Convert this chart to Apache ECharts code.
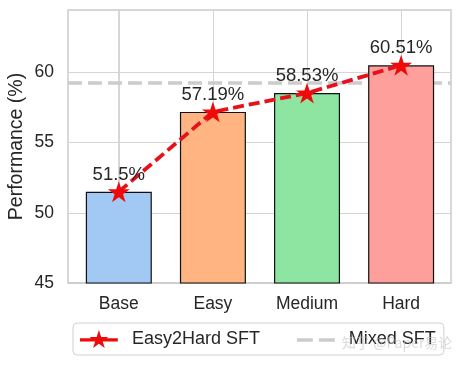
<!DOCTYPE html>
<html>
<head>
<meta charset="utf-8">
<script src="https://cdn.jsdelivr.net/npm/echarts@6/dist/echarts.min.js"></script>
<style>html,body{margin:0;padding:0;background:#fff}#c{width:461px;height:366px}</style>
</head>
<body>
<div id="c"></div>
<script>
var categories = ['Base', 'Easy', 'Medium', 'Hard'];
var performance = [51.5, 57.19, 58.53, 60.51];
var barColors = ['#a1c9f4', '#ffb482', '#8de5a1', '#ff9f9b'];
var mixedSFT = 59.25;
var yTicks = [45, 50, 55, 60];

var FONT = '"Liberation Sans", Arial, sans-serif';
var TXT = '#262626';
var STAR = 'path://M0,-1000 L224,-309 L951,-309 L363,118 L588,809 L0,382 L-588,809 L-363,118 L-951,-309 L-224,-309 Z';
var ICON_STAR_LINE = 'path://M0,8.4 L38,8.4 L38,11.6 L0,11.6 Z M19,0 L21.25,6.91 L28.51,6.91 L22.63,11.18 L24.88,18.09 L19,13.82 L13.12,18.09 L15.37,11.18 L9.49,6.91 L16.76,6.91 Z';
var ICON_DASH = 'path://M0,0 L0.01,0 L0,0.01 Z M38,18.09 L37.99,18.09 L38,18.08 Z M0,8.3 L16,8.3 L16,11.7 L0,11.7 Z M22,8.3 L38,8.3 L38,11.7 L22,11.7 Z';

var catIndex = categories.map(function (c, i) { return i; });
var barData = performance.map(function (v, i) {
  return {value: [i, v], itemStyle: {color: barColors[i], borderColor: '#111', borderWidth: 1.2}};
});
var lineData = performance.map(function (v, i) { return [i, v]; });

var chart = echarts.init(document.getElementById('c'), null, {renderer: 'canvas'});
chart.setOption({
  animation: false,
  textStyle: {fontFamily: FONT},
  grid: {left: 68, right: 10, top: 10, bottom: 83, outerBoundsMode: 'none', show: true, borderColor: '#cccccc', borderWidth: 1.5, backgroundColor: '#fff'},
  legend: {
    data: [
      {name: 'Easy2Hard SFT', icon: ICON_STAR_LINE, itemStyle: {color: '#ee0a0a', borderWidth: 0}},
      {name: 'Mixed SFT', icon: ICON_DASH, itemStyle: {color: '#cccccc', borderWidth: 0}}
    ],
    left: 73, top: 323,
    padding: [7, 8, 7, 7],
    itemWidth: 38, itemHeight: 18, itemGap: 37,
    itemStyle: {borderWidth: 0},
    borderColor: '#d0d0d0', borderWidth: 1, borderRadius: 4,
    textStyle: {fontSize: 18, color: TXT, fontFamily: FONT, padding: [0, 0, 0, 9]}
  },
  xAxis: {
    type: 'value',
    min: -0.54, max: 3.53,
    axisLine: {show: true, onZero: false, lineStyle: {color: '#cccccc', width: 1.5}},
    axisTick: {show: false, customValues: catIndex},
    axisLabel: {fontSize: 17.5, color: TXT, margin: 12, fontFamily: FONT, customValues: catIndex,
      formatter: function (v) { return categories[Math.round(v)] || ''; }},
    splitLine: {show: false}
  },
  yAxis: {
    type: 'value',
    min: 45, max: 64.45, interval: 5,
    name: 'Performance (%)',
    nameLocation: 'middle', nameGap: 41, nameMoveOverlap: false,
    nameTextStyle: {fontSize: 19.5, color: TXT, fontFamily: FONT},
    axisLine: {show: true, lineStyle: {color: '#cccccc', width: 1.5}},
    axisTick: {show: false},
    axisLabel: {fontSize: 17.5, color: TXT, margin: 14, showMaxLabel: false, fontFamily: FONT,
      formatter: function (v) { return yTicks.indexOf(v) >= 0 ? String(v) : ''; }},
    splitLine: {show: true, lineStyle: {color: '#d5d5d5', width: 1}}
  },
  series: [
    {
      name: 'Mixed SFT', type: 'line', data: [], z: 1,
      symbol: 'none',
      lineStyle: {color: '#cccccc', type: [14, 6], width: 3.5},
      itemStyle: {color: '#cccccc'},
      markLine: {
        silent: true, symbol: 'none', z: 1,
        label: {show: false},
        data: [
          {xAxis: 0, lineStyle: {color: '#d5d5d5', type: 'solid', width: 1}},
          {xAxis: 1, lineStyle: {color: '#d5d5d5', type: 'solid', width: 1}},
          {xAxis: 2, lineStyle: {color: '#d5d5d5', type: 'solid', width: 1}},
          {xAxis: 3, lineStyle: {color: '#d5d5d5', type: 'solid', width: 1}},
          {yAxis: mixedSFT, lineStyle: {color: '#cccccc', type: [14, 6], width: 3.5}}
        ]
      }
    },
    {
      name: 'Performance', type: 'bar', z: 2,
      barWidth: 66,
      data: barData
    },
    {
      name: 'Easy2Hard SFT', type: 'line', z: 3,
      data: lineData,
      symbol: STAR, symbolSize: 22, symbolKeepAspect: true,
      itemStyle: {color: '#ee0a0a'},
      lineStyle: {color: '#e8101a', type: [11, 5], width: 3.8},
      label: {show: true, position: 'top', distance: -3, fontSize: 18.5, color: TXT, fontFamily: FONT,
        formatter: function (p) { return p.value[1] + '%'; }}
    }
  ],
  graphic: [{
    type: 'text', left: 342, top: 336, z: 100,
    style: {text: '知乎 @Paper易论', fontSize: 14, fill: 'rgba(190,190,190,0.55)', fontFamily: '"Noto Sans CJK SC", sans-serif'}
  }]
});
</script>
</body>
</html>
